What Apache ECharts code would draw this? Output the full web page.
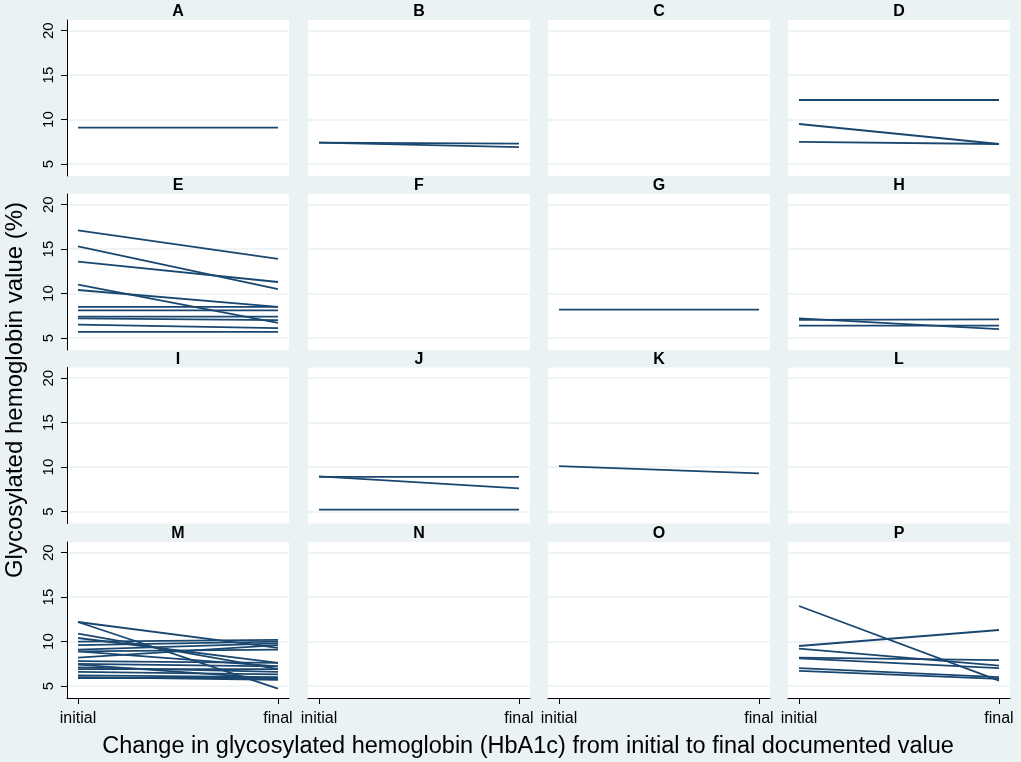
<!DOCTYPE html>
<html>
<head>
<meta charset="utf-8">
<script src="https://cdn.jsdelivr.net/npm/echarts@6/dist/echarts.min.js"></script>
<style>
  html, body { margin: 0; padding: 0; background: #eaf2f3; }
  #chart { width: 1021px; height: 762px; }
</style>
</head>
<body>
<div id="chart"></div>
<script>
// panel labels and x tick labels
const panelNames = ['A', 'B', 'C', 'D', 'E', 'F', 'G', 'H', 'I', 'J', 'K', 'L', 'M', 'N', 'O', 'P']
const xLabels = ['initial', 'final']
const yTicks = [5, 10, 15, 20]

// each pair = [initial, final] HbA1c (%)
const panelA = [[9.1, 9.1]]
const panelB = [[7.4, 7.3], [7.4, 6.9]]
const panelC = []
const panelD = [[12.2, 12.2], [9.5, 7.25], [7.5, 7.25]]
const panelE = [
  [17.1, 13.9], [15.3, 10.5], [13.6, 11.3], [11.0, 6.7], [10.4, 8.5], [8.5, 8.5],
  [8.1, 8.1], [7.4, 7.4], [7.2, 7.0], [6.5, 6.1], [5.7, 5.7],
]
const panelF = []
const panelG = [[8.2, 8.2]]
const panelH = [[7.2, 6.0], [7.05, 7.1], [6.4, 6.4]]
const panelI = []
const panelJ = [[8.9, 8.9], [8.95, 7.6], [5.2, 5.2]]
const panelK = [[10.1, 9.3]]
const panelL = []
const panelM = [
  [12.2, 9.3], [12.2, 4.7], [10.9, 6.9], [10.4, 7.6], [10.0, 10.2], [9.6, 10.0],
  [9.1, 9.8], [8.9, 7.2], [8.9, 9.1], [8.2, 9.6], [7.8, 7.6], [7.5, 7.2],
  [7.4, 5.8], [7.1, 6.6], [6.9, 6.9], [6.6, 6.3], [6.2, 6.0], [5.9, 5.9], [6.0, 5.7],
]
const panelN = []
const panelO = []
const panelP = [[14.0, 5.6], [9.5, 11.3], [9.2, 7.3], [8.2, 7.9], [8.1, 7.0], [7.0, 6.0], [6.7, 5.8]]

const panels = [
  panelA, panelB, panelC, panelD, panelE, panelF, panelG, panelH,
  panelI, panelJ, panelK, panelL, panelM, panelN, panelO, panelP,
]

// layout
const colLeft = [67, 308, 548, 788]
const rowTop = [20, 194, 367.5, 542]
const cellW = 222
const cellH = 156
const bg = '#eaf2f3'
const lineColor = '#1a476f'
const font = 'Liberation Sans, Arial, sans-serif'

const chart = echarts.init(document.getElementById('chart'))

const grid = []
const xAxis = []
const yAxis = []
const title = []
const series = []

panels.forEach((pairs, i) => {
  const r = Math.floor(i / 4)
  const c = i % 4
  grid.push({
    left: colLeft[c], top: rowTop[r], width: cellW, height: cellH,
    show: true, backgroundColor: '#fff', borderWidth: 0,
  })
  title.push({
    text: panelNames[i],
    left: colLeft[c] + cellW / 2,
    top: rowTop[r] - 16,
    textAlign: 'center',
    padding: 0,
    textStyle: { fontFamily: font, fontSize: 16, fontWeight: 'bold', color: '#000' },
  })
  const bottom = r === 3
  const left = c === 0
  xAxis.push({
    gridIndex: i,
    type: 'value',
    min: -0.055,
    max: 1.055,
    axisLine: { show: bottom, onZero: false, lineStyle: { color: '#000', width: 1 } },
    axisTick: { show: bottom, customValues: [0, 1], length: 6, lineStyle: { color: '#000' } },
    axisLabel: {
      show: bottom, customValues: [0, 1], margin: 13,
      fontFamily: font, fontSize: 16, color: '#000',
      formatter: v => xLabels[Math.round(v)],
    },
    splitLine: { show: false },
  })
  yAxis.push({
    gridIndex: i,
    type: 'value',
    min: 3.65,
    max: 21.2,
    axisLine: { show: left, onZero: false, lineStyle: { color: '#000', width: 1 } },
    axisTick: { show: left, customValues: yTicks, length: 6, lineStyle: { color: '#000' } },
    axisLabel: {
      show: left, customValues: yTicks, rotate: 90, margin: 11,
      fontFamily: font, fontSize: 15, color: '#000',
    },
    splitLine: { show: true, lineStyle: { color: bg, width: 1.5 } },
  })
  pairs.forEach(p => {
    series.push({
      type: 'line',
      xAxisIndex: i,
      yAxisIndex: i,
      data: [[0, p[0]], [1, p[1]]],
      symbol: 'none',
      silent: true,
      lineStyle: { color: lineColor, width: 1.8 },
    })
  })
})

chart.setOption({
  backgroundColor: bg,
  animation: false,
  title,
  grid,
  xAxis,
  yAxis,
  series,
  graphic: [
    {
      type: 'text',
      x: 15,
      y: 390,
      rotation: Math.PI / 2,
      style: {
        text: 'Glycosylated hemoglobin value (%)',
        font: '24px ' + font,
        fill: '#000',
        textAlign: 'center',
        textVerticalAlign: 'middle',
      },
    },
    {
      type: 'text',
      x: 528,
      y: 747,
      style: {
        text: 'Change in glycosylated hemoglobin (HbA1c) from initial to final documented value',
        font: '23.5px ' + font,
        fill: '#000',
        textAlign: 'center',
        textVerticalAlign: 'middle',
      },
    },
  ],
})
</script>
</body>
</html>
